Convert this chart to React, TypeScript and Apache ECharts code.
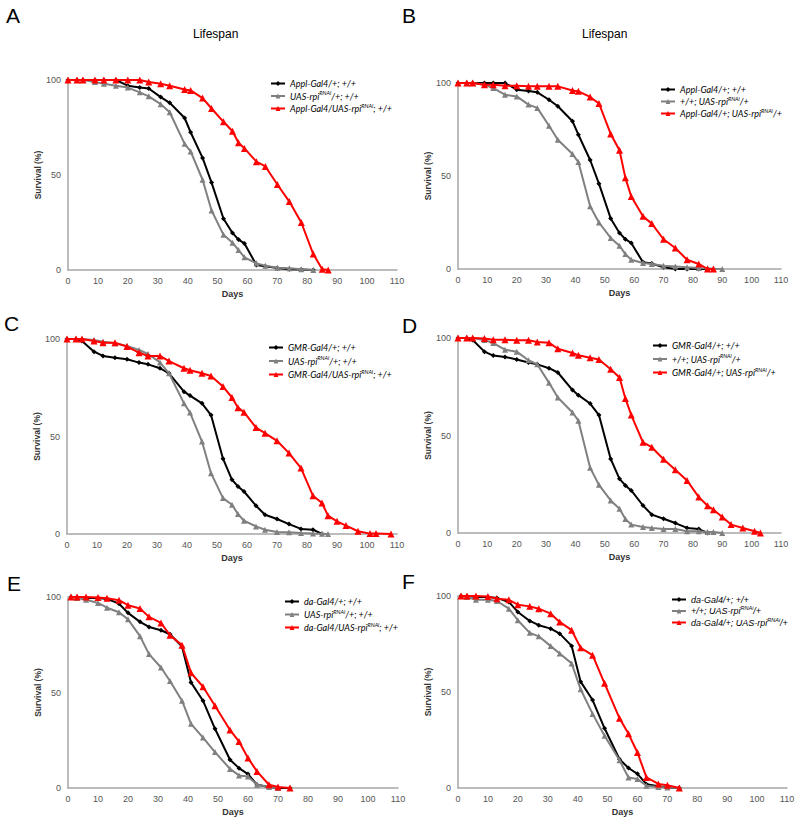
import React, { useEffect, useRef } from "react";
import * as echarts from "echarts";

// ---------- data ----------
const DAYS_A = [0,3,5,9,12,16,20,24,27,31,34,39,41,45,48,52,55,57,59,63,66,70,74,78,82,85,87];
const A_BLACK = [100,100,100,100,100,100,97,96,95.5,91,88,80,72.5,59,46,27,19.5,16,14,2.6,2,1,0.4,0.2,0];
const A_GRAY = [100,100,100,99,98,97,96,93.5,91.4,87.3,83,66.4,62.4,47.5,31.3,18.5,14.4,10.5,6.7,3.5,2.3,1.2,0.9,0.4,0];
const A_RED = [100,100,100,100,100,100,100,100,99,98,97,95,94.5,90.5,85,78,73,67,64,57,54.5,45,36,25,8.4,0.4,0];

const DAYS_B = [0,3,5,9,12,16,20,24,27,31,34,39,41,45,48,52,55,57,59,63,66,70,74,78,82,85,87,90];
const B_BLACK = [100,100,100,100,100,100,96.4,95.7,95,91,87.5,79.4,72.2,58.6,45.9,27.2,19.4,16,14,3.6,2.9,0.9,0,0,0,0];
const B_GRAY = [100,100,100,99,97.3,93.7,92.8,88.4,86.6,77,69.5,61.8,57.5,33.7,25,16.7,12.5,8,5,3.2,2.7,1.8,1.4,0.9,0.5,0.4,0.2,0];
const B_RED = [100,100,100,99,99,98.5,98.5,98.2,98.2,98.2,98.2,96,95.5,92.5,89,72.6,63.8,49,39,28.3,24.4,16,11.3,5,2.7,0,0];

const DAYS_C = [0,3,5,9,12,16,20,24,27,31,34,39,41,45,48,52,55,57,59,63,66,70,74,78,82,85,87,90,93,97,101,103,108];
const C_BLACK = [100,100,99,93.5,91.3,90.4,89.6,87.9,87,85,82.4,73,71,67,61,38.6,27.8,24.4,21.8,14.5,9.9,7.7,5.1,2.6,2.2,0];
const C_GRAY = [100,100,100,99.5,98.6,97.8,96.4,94.4,92.3,88,82.4,67,62.3,47.4,31.2,18.4,15,10.2,6.8,3.9,2.2,1,0.9,0.5,0.2,0.1,0];
const C_RED = [100,100,100,99,98.1,98.1,96.1,93,91.3,91.3,88.7,85,84,82.4,81,75.6,70,64.8,62.5,54.6,51.7,47.8,41.5,33.8,19.6,15.9,9.4,6.5,4.3,1.4,0.2,0.2,0];

const DAYS_D = [0,3,5,9,12,16,20,24,27,31,34,39,41,45,48,52,55,57,59,63,66,70,74,78,82,85,87,90,93,97,101,103];
const D_BLACK = [100,100,99,93,91,90.3,89,87.4,86.5,84.5,82.3,73.3,70.7,66.4,60.5,38,27.8,24.4,21.8,14.1,9.4,7.3,5.1,2.6,2,0];
const D_GRAY = [100,100,100,99,97.4,94,93,88.6,86.5,77,69.5,61.8,57.6,33.5,24.7,16.7,12.4,7.2,4.3,3.1,2.6,2,2,0.9,0.9,0.5,0.5,0];
const D_RED = [100,100,100,99.7,99.1,99.1,98.8,98.8,98,97.6,94.5,92.3,91.1,89.9,89,84,79.7,69,60.5,46.5,44,37.8,32.4,26.9,18.4,14,11.9,8.2,4.3,2.6,0.9,0];

const DAYS_EF = [1,3,6,10,13,17,20,24,27,31,34,38,41,45,49,54,57,60,63,67,70,74];
const E_BLACK = [100,100,99.5,99.5,99,96.5,91.7,87,84.3,82.6,80.5,74,55.3,45.7,31,14.8,10.4,7.3,1.7,0.5,0,0];
const E_GRAY = [100,99.5,98.6,96.9,94.4,92,88.3,79.5,70.1,63.1,56,45.7,33.6,26.4,18.8,10,6.6,6,1.7,0.5,0];
const E_RED = [100,100,100,99.7,99.3,98.3,95.7,94,89.6,86.4,80,74.8,60.3,53,43.1,30.4,24.3,15.7,8.7,1.7,0.5,0];

const F_BLACK = [100,100,99.5,99.5,99,96.9,91.7,87,84.8,83,80.4,74,55.4,45.8,31.1,15,10.4,7.4,2,0.9,0.3,0];
const F_GRAY = [100,99.5,98,98,97.4,93.4,87.4,80.8,79,73.9,70,64.9,51.4,38.6,27.2,14.4,5.5,4.7,1.2,0.5,0.3,0];
const F_RED = [100,100,100,99.8,98.6,98,95.5,94.6,93.4,90.8,86.5,82.2,73,69.2,54.5,36.3,28.2,18.5,5.5,2.1,1.4,0];

const X_TICKS = { min: 0, max: 110, interval: 10 };
const Y_TICKS = { min: 0, max: 100, interval: 50 };

// legend labels: [pre, sup, post]
const LABELS_A = [["Appl-Gal4/+; +/+", "", ""], ["UAS-rpi", "RNAi", "/+; +/+"], ["Appl-Gal4/UAS-rpi", "RNAi", "; +/+"]];
const LABELS_B = [["Appl-Gal4/+; +/+", "", ""], ["+/+; UAS-rpi", "RNAi", "/+"], ["Appl-Gal4/+; UAS-rpi", "RNAi", "/+"]];
const LABELS_C = [["GMR-Gal4/+; +/+", "", ""], ["UAS-rpi", "RNAi", "/+; +/+"], ["GMR-Gal4/UAS-rpi", "RNAi", "; +/+"]];
const LABELS_D = [["GMR-Gal4/+; +/+", "", ""], ["+/+; UAS-rpi", "RNAi", "/+"], ["GMR-Gal4/+; UAS-rpi", "RNAi", "/+"]];
const LABELS_E = [["da-Gal4/+; +/+", "", ""], ["UAS-rpi", "RNAi", "/+; +/+"], ["da-Gal4/UAS-rpi", "RNAi", "; +/+"]];
const LABELS_F = [["da-Gal4/+; +/+", "", ""], ["+/+; UAS-rpi", "RNAi", "/+"], ["da-Gal4/+; UAS-rpi", "RNAi", "/+"]];

const PANELS = [
  { key: "A", days: DAYS_A, series: [A_BLACK, A_GRAY, A_RED], labels: LABELS_A },
  { key: "B", days: DAYS_B, series: [B_BLACK, B_GRAY, B_RED], labels: LABELS_B },
  { key: "C", days: DAYS_C, series: [C_BLACK, C_GRAY, C_RED], labels: LABELS_C },
  { key: "D", days: DAYS_D, series: [D_BLACK, D_GRAY, D_RED], labels: LABELS_D },
  { key: "E", days: DAYS_EF, series: [E_BLACK, E_GRAY, E_RED], labels: LABELS_E },
  { key: "F", days: DAYS_EF, series: [F_BLACK, F_GRAY, F_RED], labels: LABELS_F },
];

// ---------- layout / style ----------
const GRIDS = [
  { left: 68, top: 80, width: 329, height: 190 },
  { left: 458, top: 83, width: 323, height: 186 },
  { left: 67, top: 339, width: 330, height: 195 },
  { left: 458, top: 338, width: 323, height: 195 },
  { left: 68, top: 597, width: 330, height: 191 },
  { left: 458, top: 596, width: 329, height: 192 },
];
const LEGENDS = [
  { left: 270, top: 79, gap: 2, font: "Lato" },
  { left: 660, top: 85, gap: 1.5, font: "Lato" },
  { left: 268, top: 343, gap: 3, font: "Lato" },
  { left: 652, top: 341, gap: 3, font: "Lato" },
  { left: 284, top: 597, gap: 2.5, font: "Lato" },
  { left: 671, top: 595, gap: 1, font: "Liberation Sans" },
];
const LETTERS = [
  { t: "A", left: 6, top: 5 }, { t: "B", left: 402, top: 5 },
  { t: "C", left: 4, top: 313 }, { t: "D", left: 402, top: 315 },
  { t: "E", left: 7, top: 573 }, { t: "F", left: 402, top: 571 },
];
const COLORS = ["#000000", "#808080", "#ff0000"];
const SYMBOLS = ["diamond", "triangle", "triangle"];
const SYMBOL_SIZES = [5, 6, 7];
const AXIS_COLOR = "#a6a6a6";
const LABEL_COLOR = "#555555";
const SANS = "Liberation Sans";

export default function App() {
  const ref = useRef<HTMLDivElement>(null);
  useEffect(() => {
    document.body.style.margin = "0";
    const chart = echarts.init(ref.current!, undefined, { renderer: "svg" });

    const legendText: Record<string, string> = {};
    const series: any[] = [];
    const legend: any[] = [];
    const xAxis: any[] = [];
    const yAxis: any[] = [];

    PANELS.forEach((p, gi) => {
      const names: string[] = [];
      p.series.forEach((vals, si) => {
        const name = `${p.key}${si}`;
        const [pre, sup, post] = p.labels[si];
        legendText[name] = `{n|${pre}}` + (sup ? `{s|${sup}}{n|${post}}` : "");
        names.push(name);
        series.push({
          type: "line",
          name,
          xAxisIndex: gi,
          yAxisIndex: gi,
          data: vals.map((v, i) => [p.days[i], v]),
          symbol: SYMBOLS[si],
          symbolSize: SYMBOL_SIZES[si],
          showSymbol: true,
          itemStyle: { color: COLORS[si] },
          lineStyle: { color: COLORS[si], width: 2 },
          z: 2 + si,
        });
      });
      const lg = LEGENDS[gi];
      legend.push({
        orient: "vertical",
        left: lg.left,
        top: lg.top,
        itemWidth: 14,
        itemHeight: 6,
        itemGap: lg.gap,
        padding: 0,
        data: names,
        formatter: (n: string) => legendText[n],
        textStyle: {
          color: "#000",
          rich: {
            n: { fontFamily: lg.font, fontStyle: "italic", fontSize: 9, lineHeight: 12, color: "#000" },
            s: { fontFamily: lg.font, fontStyle: "italic", fontSize: 5.5, lineHeight: 12, verticalAlign: "top", color: "#000", padding: [0, 0, 0, 0] },
          },
        },
      });
      xAxis.push({
        type: "value",
        gridIndex: gi,
        ...X_TICKS,
        name: "Days",
        nameLocation: "middle",
        nameGap: 19,
        nameTextStyle: { fontFamily: SANS, fontWeight: "bold", fontSize: 9, color: "#333" },
        axisLine: { show: true, lineStyle: { color: AXIS_COLOR, width: 1.5 } },
        axisTick: { show: false },
        splitLine: { show: false },
        axisLabel: { fontFamily: SANS, fontSize: 9, color: LABEL_COLOR, margin: 6 },
      });
      yAxis.push({
        type: "value",
        gridIndex: gi,
        ...Y_TICKS,
        name: "Survival (%)",
        nameLocation: "middle",
        nameGap: 25,
        nameTextStyle: { fontFamily: SANS, fontWeight: "bold", fontSize: 8.5, color: "#333" },
        axisLine: { show: true, lineStyle: { color: AXIS_COLOR, width: 1.5 } },
        axisTick: { show: false },
        splitLine: { show: false },
        axisLabel: { fontFamily: SANS, fontSize: 9, color: LABEL_COLOR, margin: 7 },
      });
    });

    const title: any[] = LETTERS.map((l) => ({
      text: l.t,
      left: l.left,
      top: l.top,
      padding: 0,
      textStyle: { fontFamily: SANS, fontSize: 21, fontWeight: "normal", color: "#000" },
    }));
    title.push(
      { text: "Lifespan", left: 193, top: 28, padding: 0, textStyle: { fontFamily: SANS, fontSize: 12, fontWeight: "normal", color: "#000" } },
      { text: "Lifespan", left: 582, top: 28, padding: 0, textStyle: { fontFamily: SANS, fontSize: 12, fontWeight: "normal", color: "#000" } }
    );

    chart.setOption({
      animation: false,
      backgroundColor: "#ffffff",
      title,
      grid: GRIDS.map((g) => ({ ...g, containLabel: false })),
      xAxis,
      yAxis,
      legend,
      series,
    });
    return () => chart.dispose();
  }, []);
  return <div ref={ref} style={{ position: "fixed", left: 0, top: 0, width: 800, height: 821 }} />;
}
